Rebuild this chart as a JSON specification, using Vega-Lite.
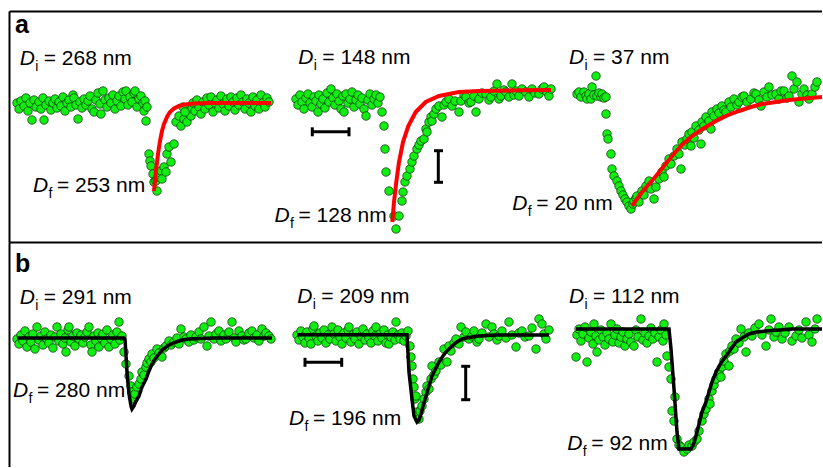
{
"$schema": "https://vega.github.io/schema/vega-lite/v6.json",
"padding": {"left": 9, "top": 11, "right": 0, "bottom": 0},
"spacing": 0,
"config": {"view": {"stroke": null}, "font": "Liberation Sans",
 "axis": {"domain": true, "domainColor": "#000000", "domainWidth": 2, "ticks": false, "labels": false, "grid": false}},
"datasets": {
"labelsA": [
{"x":20.7,"v":177.4,"sub":"i","rest":"= 268 nm"},
{"x":34,"v":50.3,"sub":"f","rest":"= 253 nm"},
{"x":299.3,"v":178,"sub":"i","rest":"= 148 nm"},
{"x":275.5,"v":20.3,"sub":"f","rest":"= 128 nm"},
{"x":570,"v":178,"sub":"i","rest":"= 37 nm"},
{"x":513.3,"v":32.3,"sub":"f","rest":"= 20 nm"}
],
"labelsB": [
{"x":20.7,"v":163,"sub":"i","rest":"= 291 nm"},
{"x":14,"v":69.7,"sub":"f","rest":"= 280 nm"},
{"x":298.3,"v":164,"sub":"i","rest":"= 209 nm"},
{"x":290,"v":42,"sub":"f","rest":"= 196 nm"},
{"x":570,"v":164,"sub":"i","rest":"= 112 nm"},
{"x":568.3,"v":17.3,"sub":"f","rest":"= 92 nm"}
],
"barsA": [
{"x":313.3,"x2":350,"v":110.3,"v2":110.3},
{"x":313.3,"x2":313.3,"v":105.7,"v2":114.7},
{"x":350,"x2":350,"v":105.7,"v2":114.7},
{"x":439.3,"x2":439.3,"v":59.7,"v2":91.3},
{"x":435,"x2":444,"v":59.7,"v2":59.7},
{"x":435,"x2":444,"v":91.3,"v2":91.3}
],
"barsB": [
{"x":306,"x2":342.7,"v":104.7,"v2":104.7},
{"x":306,"x2":306,"v":100.2,"v2":109.2},
{"x":342.7,"x2":342.7,"v":100.2,"v2":109.2},
{"x":466.7,"x2":466.7,"v":67.3,"v2":100.7},
{"x":462.2,"x2":471.2,"v":67.3,"v2":67.3},
{"x":462.2,"x2":471.2,"v":100.7,"v2":100.7}
],
"fitA": [
{"p":1,"x":155,"v":51},{"p":1,"x":157,"v":71},{"p":1,"x":159,"v":88},{"p":1,"x":161,"v":101},{"p":1,"x":163,"v":111},{"p":1,"x":165,"v":118},{"p":1,"x":168,"v":125},{"p":1,"x":171,"v":130},{"p":1,"x":175,"v":133.5},{"p":1,"x":180,"v":136},{"p":1,"x":186,"v":137.5},{"p":1,"x":195,"v":138.5},{"p":1,"x":210,"v":139},{"p":1,"x":240,"v":139},{"p":1,"x":272,"v":139},
{"p":2,"x":393.3,"v":20},{"p":2,"x":395,"v":40},{"p":2,"x":397.3,"v":60},{"p":2,"x":400,"v":80},{"p":2,"x":404,"v":100},{"p":2,"x":409.3,"v":116},{"p":2,"x":416.7,"v":130},{"p":2,"x":426.7,"v":140},{"p":2,"x":440,"v":146},{"p":2,"x":460,"v":150},{"p":2,"x":480,"v":151},{"p":2,"x":520,"v":151.8},{"p":2,"x":552,"v":152},
{"p":3,"x":633,"v":36},{"p":3,"x":638,"v":43},{"p":3,"x":643,"v":50},{"p":3,"x":650,"v":58},{"p":3,"x":657,"v":66},{"p":3,"x":665,"v":76},{"p":3,"x":673,"v":86},{"p":3,"x":683,"v":97},{"p":3,"x":693,"v":106},{"p":3,"x":705,"v":114},{"p":3,"x":717,"v":121},{"p":3,"x":728,"v":126.5},{"p":3,"x":740,"v":131},{"p":3,"x":752,"v":135},{"p":3,"x":763,"v":138},{"p":3,"x":777,"v":140},{"p":3,"x":790,"v":142},{"p":3,"x":806,"v":143.5},{"p":3,"x":823,"v":145}
],
"fitB": [
{"p":1,"x":18,"v":129},{"p":1,"x":125,"v":129},{"p":1,"x":126,"v":128},{"p":1,"x":128,"v":95},{"p":1,"x":130,"v":73},{"p":1,"x":132,"v":61},{"p":1,"x":133,"v":58},{"p":1,"x":135,"v":61},{"p":1,"x":137,"v":66},{"p":1,"x":140,"v":71},{"p":1,"x":143,"v":80},{"p":1,"x":147,"v":88},{"p":1,"x":150,"v":96},{"p":1,"x":153,"v":103},{"p":1,"x":156,"v":108},{"p":1,"x":160,"v":113},{"p":1,"x":163,"v":117},{"p":1,"x":167,"v":120},{"p":1,"x":172,"v":123},{"p":1,"x":177,"v":125},{"p":1,"x":183,"v":127},{"p":1,"x":190,"v":128},{"p":1,"x":200,"v":128.5},{"p":1,"x":217,"v":129},{"p":1,"x":273,"v":129},
{"p":2,"x":298,"v":132.3},{"p":2,"x":408,"v":132.3},{"p":2,"x":410,"v":95},{"p":2,"x":413,"v":68},{"p":2,"x":415,"v":51},{"p":2,"x":418,"v":45},{"p":2,"x":420,"v":47},{"p":2,"x":422,"v":53},{"p":2,"x":424,"v":61},{"p":2,"x":427,"v":71},{"p":2,"x":430,"v":81},{"p":2,"x":433,"v":91},{"p":2,"x":437,"v":99},{"p":2,"x":440,"v":105},{"p":2,"x":444,"v":111},{"p":2,"x":447,"v":115},{"p":2,"x":450,"v":118},{"p":2,"x":453,"v":121},{"p":2,"x":458,"v":125},{"p":2,"x":463,"v":128},{"p":2,"x":470,"v":129.5},{"p":2,"x":480,"v":131},{"p":2,"x":497,"v":132},{"p":2,"x":550,"v":132},
{"p":3,"x":577,"v":138},{"p":3,"x":670,"v":138},{"p":3,"x":672,"v":118},{"p":3,"x":675,"v":78},{"p":3,"x":678,"v":35},{"p":3,"x":680,"v":18},{"p":3,"x":686,"v":18},{"p":3,"x":692,"v":18},{"p":3,"x":695,"v":24},{"p":3,"x":697,"v":31},{"p":3,"x":700,"v":43},{"p":3,"x":703,"v":55},{"p":3,"x":707,"v":65},{"p":3,"x":710,"v":75},{"p":3,"x":713,"v":85},{"p":3,"x":717,"v":95},{"p":3,"x":722,"v":104},{"p":3,"x":727,"v":111},{"p":3,"x":732,"v":118},{"p":3,"x":737,"v":125},{"p":3,"x":743,"v":129},{"p":3,"x":750,"v":133},{"p":3,"x":758,"v":135},{"p":3,"x":767,"v":136},{"p":3,"x":780,"v":137},{"p":3,"x":793,"v":138},{"p":3,"x":823,"v":138}
],
"ptsA": [
{"p":1,"x":18,"v":139},{"p":1,"x":20,"v":133},{"p":1,"x":22,"v":141},{"p":1,"x":25,"v":136},{"p":1,"x":27,"v":144},{"p":1,"x":29,"v":131},{"p":1,"x":31,"v":139},{"p":1,"x":33,"v":122},{"p":1,"x":35,"v":142},{"p":1,"x":37,"v":135},{"p":1,"x":40,"v":140},{"p":1,"x":42,"v":133},{"p":1,"x":44,"v":144},{"p":1,"x":45,"v":122},{"p":1,"x":47,"v":137},{"p":1,"x":50,"v":141},{"p":1,"x":52,"v":132},{"p":1,"x":54,"v":139},{"p":1,"x":56,"v":143},{"p":1,"x":58,"v":134},{"p":1,"x":60,"v":140},{"p":1,"x":62,"v":136},{"p":1,"x":64,"v":145},{"p":1,"x":66,"v":131},{"p":1,"x":68,"v":139},{"p":1,"x":70,"v":142},{"p":1,"x":72,"v":135},{"p":1,"x":74,"v":147},{"p":1,"x":75,"v":144},{"p":1,"x":77,"v":137},{"p":1,"x":79,"v":123},{"p":1,"x":81,"v":140},{"p":1,"x":83,"v":134},{"p":1,"x":85,"v":143},{"p":1,"x":87,"v":137},{"p":1,"x":89,"v":141},{"p":1,"x":91,"v":146},{"p":1,"x":93,"v":133},{"p":1,"x":95,"v":130},{"p":1,"x":97,"v":142},{"p":1,"x":99,"v":149},{"p":1,"x":101,"v":138},{"p":1,"x":102,"v":128},{"p":1,"x":104,"v":151},{"p":1,"x":106,"v":142},{"p":1,"x":108,"v":135},{"p":1,"x":110,"v":144},{"p":1,"x":112,"v":139},{"p":1,"x":114,"v":147},{"p":1,"x":116,"v":133},{"p":1,"x":118,"v":141},{"p":1,"x":120,"v":146},{"p":1,"x":122,"v":136},{"p":1,"x":124,"v":150},{"p":1,"x":126,"v":143},{"p":1,"x":127,"v":151},{"p":1,"x":129,"v":137},{"p":1,"x":131,"v":145},{"p":1,"x":133,"v":140},{"p":1,"x":135,"v":149},{"p":1,"x":136,"v":151},{"p":1,"x":138,"v":135},{"p":1,"x":140,"v":143},{"p":1,"x":142,"v":146},{"p":1,"x":144,"v":139},{"p":1,"x":145,"v":131},{"p":1,"x":146,"v":141},{"p":1,"x":147,"v":121},{"p":1,"x":148,"v":135},
{"p":1,"x":150,"v":88},{"p":1,"x":151,"v":81},{"p":1,"x":152,"v":76},{"p":1,"x":154,"v":68},{"p":1,"x":155,"v":60},{"p":1,"x":157,"v":61},{"p":1,"x":158,"v":51},{"p":1,"x":159,"v":65},{"p":1,"x":162,"v":71},{"p":1,"x":163,"v":63},{"p":1,"x":165,"v":75},{"p":1,"x":167,"v":70},{"p":1,"x":168,"v":88},{"p":1,"x":170,"v":95},{"p":1,"x":172,"v":80},{"p":1,"x":175,"v":98},{"p":1,"x":177,"v":120},{"p":1,"x":180,"v":126},{"p":1,"x":182,"v":116},{"p":1,"x":185,"v":123},{"p":1,"x":188,"v":120},{"p":1,"x":190,"v":131},{"p":1,"x":192,"v":126},{"p":1,"x":193,"v":133},{"p":1,"x":184,"v":135},{"p":1,"x":186,"v":130},{"p":1,"x":194,"v":139},
{"p":1,"x":196,"v":131},{"p":1,"x":198,"v":142},{"p":1,"x":200,"v":135},{"p":1,"x":202,"v":128},{"p":1,"x":204,"v":140},{"p":1,"x":206,"v":133},{"p":1,"x":208,"v":144},{"p":1,"x":210,"v":137},{"p":1,"x":212,"v":145},{"p":1,"x":214,"v":130},{"p":1,"x":216,"v":139},{"p":1,"x":218,"v":142},{"p":1,"x":220,"v":134},{"p":1,"x":222,"v":146},{"p":1,"x":224,"v":138},{"p":1,"x":226,"v":131},{"p":1,"x":228,"v":143},{"p":1,"x":230,"v":136},{"p":1,"x":232,"v":145},{"p":1,"x":234,"v":140},{"p":1,"x":236,"v":132},{"p":1,"x":238,"v":144},{"p":1,"x":240,"v":137},{"p":1,"x":242,"v":147},{"p":1,"x":244,"v":140},{"p":1,"x":246,"v":133},{"p":1,"x":248,"v":143},{"p":1,"x":250,"v":139},{"p":1,"x":252,"v":130},{"p":1,"x":254,"v":145},{"p":1,"x":256,"v":136},{"p":1,"x":258,"v":142},{"p":1,"x":260,"v":133},{"p":1,"x":262,"v":147},{"p":1,"x":264,"v":139},{"p":1,"x":266,"v":135},{"p":1,"x":268,"v":144},{"p":1,"x":270,"v":140},
{"p":2,"x":297,"v":143},{"p":2,"x":299,"v":137},{"p":2,"x":301,"v":147},{"p":2,"x":303,"v":140},{"p":2,"x":305,"v":133},{"p":2,"x":307,"v":144},{"p":2,"x":309,"v":148},{"p":2,"x":311,"v":139},{"p":2,"x":313,"v":135},{"p":2,"x":315,"v":145},{"p":2,"x":317,"v":141},{"p":2,"x":319,"v":130},{"p":2,"x":320,"v":147},{"p":2,"x":322,"v":138},{"p":2,"x":324,"v":143},{"p":2,"x":326,"v":134},{"p":2,"x":328,"v":149},{"p":2,"x":330,"v":140},{"p":2,"x":332,"v":153},{"p":2,"x":334,"v":144},{"p":2,"x":336,"v":137},{"p":2,"x":338,"v":148},{"p":2,"x":340,"v":141},{"p":2,"x":342,"v":133},{"p":2,"x":344,"v":146},{"p":2,"x":345,"v":130},{"p":2,"x":347,"v":148},{"p":2,"x":349,"v":139},{"p":2,"x":351,"v":143},{"p":2,"x":353,"v":150},{"p":2,"x":355,"v":135},{"p":2,"x":357,"v":142},{"p":2,"x":359,"v":147},{"p":2,"x":361,"v":138},{"p":2,"x":363,"v":144},{"p":2,"x":365,"v":133},{"p":2,"x":367,"v":126},{"p":2,"x":369,"v":142},{"p":2,"x":371,"v":148},{"p":2,"x":373,"v":137},{"p":2,"x":375,"v":143},{"p":2,"x":377,"v":147},{"p":2,"x":379,"v":139},{"p":2,"x":381,"v":145},{"p":2,"x":383,"v":130},
{"p":2,"x":385,"v":116},{"p":2,"x":386,"v":93},{"p":2,"x":387,"v":70},{"p":2,"x":390,"v":51},{"p":2,"x":395,"v":26},{"p":2,"x":397,"v":13},{"p":2,"x":400,"v":26},{"p":2,"x":403,"v":41},{"p":2,"x":404,"v":50},{"p":2,"x":406,"v":60},{"p":2,"x":408,"v":66},{"p":2,"x":411,"v":73},{"p":2,"x":413,"v":80},{"p":2,"x":415,"v":86},{"p":2,"x":418,"v":93},{"p":2,"x":420,"v":97},{"p":2,"x":422,"v":101},{"p":2,"x":425,"v":103},{"p":2,"x":427,"v":113},{"p":2,"x":428,"v":110},{"p":2,"x":430,"v":120},{"p":2,"x":432,"v":125},{"p":2,"x":433,"v":121},{"p":2,"x":435,"v":128},{"p":2,"x":437,"v":133},{"p":2,"x":440,"v":136},{"p":2,"x":443,"v":125},{"p":2,"x":445,"v":137},{"p":2,"x":447,"v":140},{"p":2,"x":450,"v":143},{"p":2,"x":453,"v":136},{"p":2,"x":456,"v":141},{"p":2,"x":460,"v":130},{"p":2,"x":462,"v":141},{"p":2,"x":465,"v":147},{"p":2,"x":467,"v":145},{"p":2,"x":470,"v":139},{"p":2,"x":472,"v":140},{"p":2,"x":475,"v":146},{"p":2,"x":477,"v":130},{"p":2,"x":480,"v":143},{"p":2,"x":483,"v":149},{"p":2,"x":487,"v":148},{"p":2,"x":490,"v":142},{"p":2,"x":492,"v":145},{"p":2,"x":495,"v":151},{"p":2,"x":498,"v":158},{"p":2,"x":500,"v":143},{"p":2,"x":502,"v":146},{"p":2,"x":505,"v":152},{"p":2,"x":507,"v":150},{"p":2,"x":510,"v":145},{"p":2,"x":513,"v":158},{"p":2,"x":515,"v":147},{"p":2,"x":517,"v":151},{"p":2,"x":520,"v":146},{"p":2,"x":523,"v":153},{"p":2,"x":527,"v":150},{"p":2,"x":530,"v":145},{"p":2,"x":533,"v":153},{"p":2,"x":536,"v":149},{"p":2,"x":540,"v":148},{"p":2,"x":543,"v":153},{"p":2,"x":545,"v":155},{"p":2,"x":548,"v":150},{"p":2,"x":550,"v":146},{"p":2,"x":552,"v":153},
{"p":3,"x":578,"v":148},{"p":3,"x":580,"v":150},{"p":3,"x":582,"v":145},{"p":3,"x":585,"v":150},{"p":3,"x":587,"v":146},{"p":3,"x":588,"v":143},{"p":3,"x":590,"v":148},{"p":3,"x":592,"v":143},{"p":3,"x":593,"v":155},{"p":3,"x":595,"v":147},{"p":3,"x":597,"v":166},{"p":3,"x":598,"v":146},{"p":3,"x":600,"v":149},{"p":3,"x":602,"v":145},{"p":3,"x":603,"v":148},{"p":3,"x":605,"v":144},{"p":3,"x":607,"v":145},
{"p":3,"x":607,"v":128},{"p":3,"x":608,"v":108},{"p":3,"x":609,"v":103},{"p":3,"x":612,"v":88},{"p":3,"x":613,"v":73},{"p":3,"x":615,"v":66},{"p":3,"x":618,"v":61},{"p":3,"x":620,"v":56},{"p":3,"x":622,"v":51},{"p":3,"x":624,"v":47},{"p":3,"x":626,"v":43},{"p":3,"x":628,"v":40},{"p":3,"x":630,"v":36},{"p":3,"x":632,"v":33},
{"p":3,"x":634,"v":38},{"p":3,"x":635,"v":41},{"p":3,"x":637,"v":44},{"p":3,"x":638,"v":46},{"p":3,"x":640,"v":40},{"p":3,"x":643,"v":51},{"p":3,"x":645,"v":47},{"p":3,"x":647,"v":56},{"p":3,"x":650,"v":61},{"p":3,"x":652,"v":53},{"p":3,"x":655,"v":43},{"p":3,"x":657,"v":55},{"p":3,"x":660,"v":63},{"p":3,"x":663,"v":70},{"p":3,"x":665,"v":65},{"p":3,"x":667,"v":76},{"p":3,"x":670,"v":83},{"p":3,"x":672,"v":78},{"p":3,"x":675,"v":86},{"p":3,"x":678,"v":93},{"p":3,"x":680,"v":88},{"p":3,"x":682,"v":73},{"p":3,"x":683,"v":100},{"p":3,"x":686,"v":97},{"p":3,"x":688,"v":103},{"p":3,"x":690,"v":108},{"p":3,"x":692,"v":96},{"p":3,"x":693,"v":110},{"p":3,"x":695,"v":104},{"p":3,"x":697,"v":116},{"p":3,"x":700,"v":112},{"p":3,"x":702,"v":98},{"p":3,"x":703,"v":120},{"p":3,"x":705,"v":116},{"p":3,"x":707,"v":125},{"p":3,"x":710,"v":121},{"p":3,"x":712,"v":113},{"p":3,"x":713,"v":130},{"p":3,"x":715,"v":126},{"p":3,"x":718,"v":133},{"p":3,"x":720,"v":129},{"p":3,"x":723,"v":136},{"p":3,"x":725,"v":132},{"p":3,"x":727,"v":130},{"p":3,"x":730,"v":140},{"p":3,"x":732,"v":135},{"p":3,"x":735,"v":143},{"p":3,"x":738,"v":137},{"p":3,"x":740,"v":140},{"p":3,"x":743,"v":145},{"p":3,"x":745,"v":146},{"p":3,"x":748,"v":140},{"p":3,"x":752,"v":143},{"p":3,"x":755,"v":149},{"p":3,"x":757,"v":148},{"p":3,"x":760,"v":142},{"p":3,"x":762,"v":136},{"p":3,"x":765,"v":150},{"p":3,"x":768,"v":145},{"p":3,"x":770,"v":155},{"p":3,"x":773,"v":147},{"p":3,"x":777,"v":148},{"p":3,"x":780,"v":143},{"p":3,"x":782,"v":151},{"p":3,"x":785,"v":151},{"p":3,"x":788,"v":144},{"p":3,"x":790,"v":146},{"p":3,"x":793,"v":166},{"p":3,"x":795,"v":153},{"p":3,"x":798,"v":160},{"p":3,"x":800,"v":140},{"p":3,"x":803,"v":148},{"p":3,"x":805,"v":153},{"p":3,"x":808,"v":147},{"p":3,"x":810,"v":143},{"p":3,"x":813,"v":148},{"p":3,"x":816,"v":155},{"p":3,"x":818,"v":160}
],
"ptsB": [
{"p":1,"x":18,"v":128},{"p":1,"x":20,"v":123},{"p":1,"x":22,"v":132},{"p":1,"x":24,"v":126},{"p":1,"x":26,"v":136},{"p":1,"x":28,"v":120},{"p":1,"x":30,"v":130},{"p":1,"x":32,"v":125},{"p":1,"x":34,"v":133},{"p":1,"x":36,"v":118},{"p":1,"x":38,"v":140},{"p":1,"x":40,"v":127},{"p":1,"x":42,"v":131},{"p":1,"x":44,"v":122},{"p":1,"x":46,"v":135},{"p":1,"x":48,"v":128},{"p":1,"x":50,"v":124},{"p":1,"x":52,"v":132},{"p":1,"x":54,"v":119},{"p":1,"x":56,"v":130},{"p":1,"x":58,"v":140},{"p":1,"x":60,"v":126},{"p":1,"x":62,"v":133},{"p":1,"x":64,"v":123},{"p":1,"x":66,"v":129},{"p":1,"x":67,"v":115},{"p":1,"x":69,"v":137},{"p":1,"x":70,"v":140},{"p":1,"x":72,"v":125},{"p":1,"x":74,"v":131},{"p":1,"x":76,"v":121},{"p":1,"x":78,"v":134},{"p":1,"x":80,"v":128},{"p":1,"x":82,"v":132},{"p":1,"x":84,"v":124},{"p":1,"x":86,"v":130},{"p":1,"x":88,"v":135},{"p":1,"x":90,"v":140},{"p":1,"x":92,"v":122},{"p":1,"x":93,"v":115},{"p":1,"x":95,"v":131},{"p":1,"x":97,"v":126},{"p":1,"x":99,"v":134},{"p":1,"x":100,"v":120},{"p":1,"x":102,"v":129},{"p":1,"x":104,"v":133},{"p":1,"x":106,"v":124},{"p":1,"x":108,"v":137},{"p":1,"x":110,"v":120},{"p":1,"x":112,"v":128},{"p":1,"x":114,"v":132},{"p":1,"x":116,"v":123},{"p":1,"x":118,"v":135},{"p":1,"x":120,"v":145},{"p":1,"x":121,"v":127},{"p":1,"x":123,"v":131},{"p":1,"x":125,"v":115},
{"p":1,"x":127,"v":103},{"p":1,"x":130,"v":91},{"p":1,"x":132,"v":81},{"p":1,"x":133,"v":75},{"p":1,"x":135,"v":68},{"p":1,"x":136,"v":73},{"p":1,"x":138,"v":80},{"p":1,"x":140,"v":83},{"p":1,"x":142,"v":88},{"p":1,"x":143,"v":95},{"p":1,"x":145,"v":92},{"p":1,"x":147,"v":100},{"p":1,"x":148,"v":104},{"p":1,"x":150,"v":108},{"p":1,"x":152,"v":105},{"p":1,"x":153,"v":113},{"p":1,"x":155,"v":109},{"p":1,"x":158,"v":118},{"p":1,"x":160,"v":114},{"p":1,"x":163,"v":110},{"p":1,"x":165,"v":119},{"p":1,"x":167,"v":121},{"p":1,"x":170,"v":126},{"p":1,"x":172,"v":122},{"p":1,"x":175,"v":125},{"p":1,"x":178,"v":129},{"p":1,"x":180,"v":123},{"p":1,"x":182,"v":138},{"p":1,"x":185,"v":130},{"p":1,"x":187,"v":128},{"p":1,"x":190,"v":125},{"p":1,"x":192,"v":132},{"p":1,"x":195,"v":127},{"p":1,"x":197,"v":130},{"p":1,"x":200,"v":135},{"p":1,"x":202,"v":128},{"p":1,"x":205,"v":140},{"p":1,"x":208,"v":121},{"p":1,"x":210,"v":131},{"p":1,"x":212,"v":145},{"p":1,"x":215,"v":128},{"p":1,"x":217,"v":133},{"p":1,"x":220,"v":136},{"p":1,"x":222,"v":126},{"p":1,"x":225,"v":132},{"p":1,"x":227,"v":128},{"p":1,"x":230,"v":135},{"p":1,"x":233,"v":145},{"p":1,"x":235,"v":129},{"p":1,"x":237,"v":125},{"p":1,"x":240,"v":136},{"p":1,"x":243,"v":131},{"p":1,"x":245,"v":127},{"p":1,"x":247,"v":128},{"p":1,"x":250,"v":134},{"p":1,"x":253,"v":136},{"p":1,"x":255,"v":129},{"p":1,"x":258,"v":132},{"p":1,"x":260,"v":126},{"p":1,"x":263,"v":138},{"p":1,"x":265,"v":131},{"p":1,"x":267,"v":134},{"p":1,"x":270,"v":131},{"p":1,"x":272,"v":128},
{"p":2,"x":298,"v":132},{"p":2,"x":300,"v":127},{"p":2,"x":302,"v":136},{"p":2,"x":304,"v":130},{"p":2,"x":306,"v":124},{"p":2,"x":308,"v":135},{"p":2,"x":310,"v":129},{"p":2,"x":312,"v":123},{"p":2,"x":314,"v":138},{"p":2,"x":315,"v":141},{"p":2,"x":317,"v":131},{"p":2,"x":319,"v":126},{"p":2,"x":321,"v":134},{"p":2,"x":323,"v":129},{"p":2,"x":325,"v":137},{"p":2,"x":327,"v":124},{"p":2,"x":329,"v":132},{"p":2,"x":331,"v":128},{"p":2,"x":333,"v":140},{"p":2,"x":335,"v":133},{"p":2,"x":337,"v":126},{"p":2,"x":339,"v":137},{"p":2,"x":341,"v":130},{"p":2,"x":343,"v":123},{"p":2,"x":345,"v":134},{"p":2,"x":347,"v":129},{"p":2,"x":349,"v":137},{"p":2,"x":350,"v":140},{"p":2,"x":352,"v":125},{"p":2,"x":354,"v":132},{"p":2,"x":356,"v":128},{"p":2,"x":358,"v":135},{"p":2,"x":360,"v":123},{"p":2,"x":362,"v":131},{"p":2,"x":364,"v":138},{"p":2,"x":366,"v":127},{"p":2,"x":368,"v":133},{"p":2,"x":370,"v":129},{"p":2,"x":372,"v":124},{"p":2,"x":374,"v":136},{"p":2,"x":376,"v":131},{"p":2,"x":377,"v":140},{"p":2,"x":379,"v":126},{"p":2,"x":381,"v":133},{"p":2,"x":383,"v":129},{"p":2,"x":385,"v":137},{"p":2,"x":387,"v":124},{"p":2,"x":389,"v":132},{"p":2,"x":390,"v":123},{"p":2,"x":392,"v":130},{"p":2,"x":394,"v":135},{"p":2,"x":396,"v":127},{"p":2,"x":397,"v":145},{"p":2,"x":399,"v":132},{"p":2,"x":401,"v":128},{"p":2,"x":403,"v":134},{"p":2,"x":405,"v":126},{"p":2,"x":407,"v":131},{"p":2,"x":409,"v":136},{"p":2,"x":411,"v":121},
{"p":2,"x":412,"v":110},{"p":2,"x":413,"v":101},{"p":2,"x":414,"v":88},{"p":2,"x":415,"v":80},{"p":2,"x":416,"v":68},{"p":2,"x":417,"v":71},{"p":2,"x":418,"v":55},{"p":2,"x":420,"v":48},{"p":2,"x":421,"v":56},{"p":2,"x":423,"v":61},{"p":2,"x":425,"v":68},{"p":2,"x":427,"v":75},{"p":2,"x":428,"v":81},{"p":2,"x":430,"v":78},{"p":2,"x":432,"v":88},{"p":2,"x":433,"v":101},{"p":2,"x":435,"v":92},{"p":2,"x":437,"v":96},{"p":2,"x":440,"v":105},{"p":2,"x":442,"v":102},{"p":2,"x":445,"v":118},{"p":2,"x":448,"v":105},{"p":2,"x":450,"v":121},{"p":2,"x":452,"v":116},{"p":2,"x":455,"v":124},{"p":2,"x":457,"v":128},{"p":2,"x":460,"v":123},{"p":2,"x":462,"v":140},{"p":2,"x":465,"v":130},{"p":2,"x":467,"v":135},{"p":2,"x":470,"v":128},{"p":2,"x":473,"v":131},{"p":2,"x":475,"v":136},{"p":2,"x":478,"v":125},{"p":2,"x":480,"v":128},{"p":2,"x":483,"v":134},{"p":2,"x":487,"v":143},{"p":2,"x":490,"v":130},{"p":2,"x":493,"v":140},{"p":2,"x":495,"v":133},{"p":2,"x":498,"v":127},{"p":2,"x":500,"v":131},{"p":2,"x":503,"v":136},{"p":2,"x":507,"v":129},{"p":2,"x":510,"v":145},{"p":2,"x":513,"v":132},{"p":2,"x":517,"v":120},{"p":2,"x":520,"v":134},{"p":2,"x":523,"v":136},{"p":2,"x":526,"v":130},{"p":2,"x":530,"v":131},{"p":2,"x":533,"v":139},{"p":2,"x":537,"v":118},{"p":2,"x":540,"v":148},{"p":2,"x":543,"v":143},{"p":2,"x":545,"v":133},{"p":2,"x":547,"v":128},{"p":2,"x":550,"v":137},
{"p":3,"x":577,"v":110},{"p":3,"x":578,"v":132},{"p":3,"x":580,"v":138},{"p":3,"x":582,"v":126},{"p":3,"x":584,"v":133},{"p":3,"x":586,"v":140},{"p":3,"x":588,"v":105},{"p":3,"x":590,"v":129},{"p":3,"x":592,"v":135},{"p":3,"x":594,"v":123},{"p":3,"x":595,"v":143},{"p":3,"x":597,"v":131},{"p":3,"x":598,"v":115},{"p":3,"x":600,"v":127},{"p":3,"x":602,"v":137},{"p":3,"x":604,"v":130},{"p":3,"x":606,"v":122},{"p":3,"x":608,"v":134},{"p":3,"x":610,"v":128},{"p":3,"x":612,"v":143},{"p":3,"x":614,"v":125},{"p":3,"x":616,"v":132},{"p":3,"x":618,"v":138},{"p":3,"x":620,"v":124},{"p":3,"x":622,"v":130},{"p":3,"x":624,"v":135},{"p":3,"x":626,"v":121},{"p":3,"x":628,"v":128},{"p":3,"x":630,"v":133},{"p":3,"x":632,"v":125},{"p":3,"x":635,"v":121},{"p":3,"x":637,"v":137},{"p":3,"x":639,"v":130},{"p":3,"x":642,"v":148},{"p":3,"x":644,"v":127},{"p":3,"x":646,"v":134},{"p":3,"x":648,"v":124},{"p":3,"x":650,"v":131},{"p":3,"x":652,"v":139},{"p":3,"x":654,"v":128},{"p":3,"x":656,"v":134},{"p":3,"x":658,"v":105},{"p":3,"x":660,"v":130},{"p":3,"x":662,"v":137},{"p":3,"x":664,"v":126},{"p":3,"x":665,"v":143},{"p":3,"x":667,"v":132},
{"p":3,"x":668,"v":111},{"p":3,"x":670,"v":100},{"p":3,"x":672,"v":88},{"p":3,"x":673,"v":56},{"p":3,"x":675,"v":46},{"p":3,"x":676,"v":70},{"p":3,"x":678,"v":28},{"p":3,"x":680,"v":22},{"p":3,"x":682,"v":20},{"p":3,"x":685,"v":15},{"p":3,"x":688,"v":18},{"p":3,"x":690,"v":22},{"p":3,"x":693,"v":21},{"p":3,"x":695,"v":25},{"p":3,"x":698,"v":28},{"p":3,"x":700,"v":36},{"p":3,"x":703,"v":46},{"p":3,"x":705,"v":53},{"p":3,"x":707,"v":58},{"p":3,"x":710,"v":68},{"p":3,"x":711,"v":63},{"p":3,"x":713,"v":76},{"p":3,"x":715,"v":82},{"p":3,"x":717,"v":88},{"p":3,"x":720,"v":95},{"p":3,"x":722,"v":90},{"p":3,"x":723,"v":100},{"p":3,"x":725,"v":106},{"p":3,"x":727,"v":113},{"p":3,"x":730,"v":101},{"p":3,"x":731,"v":116},{"p":3,"x":733,"v":121},{"p":3,"x":735,"v":118},{"p":3,"x":737,"v":128},{"p":3,"x":740,"v":124},{"p":3,"x":742,"v":138},{"p":3,"x":745,"v":130},{"p":3,"x":747,"v":115},{"p":3,"x":750,"v":134},{"p":3,"x":753,"v":131},{"p":3,"x":756,"v":139},{"p":3,"x":760,"v":143},{"p":3,"x":763,"v":132},{"p":3,"x":767,"v":121},{"p":3,"x":770,"v":137},{"p":3,"x":772,"v":148},{"p":3,"x":775,"v":130},{"p":3,"x":777,"v":135},{"p":3,"x":780,"v":140},{"p":3,"x":783,"v":128},{"p":3,"x":786,"v":134},{"p":3,"x":790,"v":140},{"p":3,"x":793,"v":126},{"p":3,"x":797,"v":131},{"p":3,"x":800,"v":137},{"p":3,"x":803,"v":129},{"p":3,"x":807,"v":145},{"p":3,"x":810,"v":132},{"p":3,"x":813,"v":125},{"p":3,"x":816,"v":138},{"p":3,"x":818,"v":148}
]
},
"vconcat": [
{
"width": 813, "height": 231,
"layer": [
{"data": {"values": [{"x": 16, "v": 209, "letter": "a"}]},
 "mark": {"type": "text", "fontWeight": "bold", "fontSize": 25, "align": "left", "baseline": "alphabetic"},
 "encoding": {"x": {"field": "x", "type": "quantitative", "scale": {"domain": [10, 823], "zero": false, "nice": false}, "axis": {"orient": "top", "title": null}},
  "y": {"field": "v", "type": "quantitative", "scale": {"domain": [0, 231], "nice": false}, "axis": {"orient": "left", "title": null}},
  "text": {"field": "letter"}}},
{"data": {"name": "labelsA"},
 "mark": {"type": "text", "text": "D", "fontStyle": "italic", "fontSize": 21, "align": "left", "baseline": "alphabetic"},
 "encoding": {"x": {"field": "x", "type": "quantitative", "scale": {"domain": [10, 823], "zero": false, "nice": false}, "title": null}, "y": {"field": "v", "type": "quantitative", "scale": {"domain": [0, 231], "nice": false}, "title": null}}},
{"data": {"name": "labelsA"},
 "mark": {"type": "text", "fontSize": 14, "align": "left", "baseline": "alphabetic", "dx": 15.5, "dy": 6},
 "encoding": {"x": {"field": "x", "type": "quantitative", "scale": {"domain": [10, 823], "zero": false, "nice": false}, "title": null}, "y": {"field": "v", "type": "quantitative", "scale": {"domain": [0, 231], "nice": false}, "title": null}, "text": {"field": "sub"}}},
{"data": {"name": "labelsA"},
 "mark": {"type": "text", "fontSize": 21, "align": "left", "baseline": "alphabetic", "dx": 24},
 "encoding": {"x": {"field": "x", "type": "quantitative", "scale": {"domain": [10, 823], "zero": false, "nice": false}, "title": null}, "y": {"field": "v", "type": "quantitative", "scale": {"domain": [0, 231], "nice": false}, "title": null}, "text": {"field": "rest"}}},
{"data": {"name": "barsA"},
 "mark": {"type": "rule", "color": "#000000", "strokeWidth": 3},
 "encoding": {"x": {"field": "x", "type": "quantitative", "scale": {"domain": [10, 823], "zero": false, "nice": false}, "title": null}, "x2": {"field": "x2"}, "y": {"field": "v", "type": "quantitative", "scale": {"domain": [0, 231], "nice": false}, "title": null}, "y2": {"field": "v2"}}},
{"data": {"name": "ptsA"},
 "mark": {"type": "point", "shape": "circle", "filled": true, "size": 72, "fill": "#11ee11", "stroke": "#0a2a0a", "strokeWidth": 0.7, "opacity": 1, "clip": true},
 "encoding": {"x": {"field": "x", "type": "quantitative", "scale": {"domain": [10, 823], "zero": false, "nice": false}, "title": null}, "y": {"field": "v", "type": "quantitative", "scale": {"domain": [0, 231], "nice": false}, "title": null}}},
{"data": {"name": "fitA"},
 "mark": {"type": "line", "color": "#ff0000", "strokeWidth": 4, "clip": true},
 "encoding": {"x": {"field": "x", "type": "quantitative", "scale": {"domain": [10, 823], "zero": false, "nice": false}, "title": null}, "y": {"field": "v", "type": "quantitative", "scale": {"domain": [0, 231], "nice": false}, "title": null}, "detail": {"field": "p"}}}
]
},
{
"width": 813, "height": 225,
"layer": [
{"data": {"values": [{"x": 16, "v": 195, "letter": "b"}]},
 "mark": {"type": "text", "fontWeight": "bold", "fontSize": 25, "align": "left", "baseline": "alphabetic"},
 "encoding": {"x": {"field": "x", "type": "quantitative", "scale": {"domain": [10, 823], "zero": false, "nice": false}, "axis": {"orient": "top", "title": null}},
  "y": {"field": "v", "type": "quantitative", "scale": {"domain": [0, 225], "nice": false}, "axis": {"orient": "left", "title": null}},
  "text": {"field": "letter"}}},
{"data": {"name": "labelsB"},
 "mark": {"type": "text", "text": "D", "fontStyle": "italic", "fontSize": 21, "align": "left", "baseline": "alphabetic"},
 "encoding": {"x": {"field": "x", "type": "quantitative", "scale": {"domain": [10, 823], "zero": false, "nice": false}, "title": null}, "y": {"field": "v", "type": "quantitative", "scale": {"domain": [0, 225], "nice": false}, "title": null}}},
{"data": {"name": "labelsB"},
 "mark": {"type": "text", "fontSize": 14, "align": "left", "baseline": "alphabetic", "dx": 15.5, "dy": 6},
 "encoding": {"x": {"field": "x", "type": "quantitative", "scale": {"domain": [10, 823], "zero": false, "nice": false}, "title": null}, "y": {"field": "v", "type": "quantitative", "scale": {"domain": [0, 225], "nice": false}, "title": null}, "text": {"field": "sub"}}},
{"data": {"name": "labelsB"},
 "mark": {"type": "text", "fontSize": 21, "align": "left", "baseline": "alphabetic", "dx": 24},
 "encoding": {"x": {"field": "x", "type": "quantitative", "scale": {"domain": [10, 823], "zero": false, "nice": false}, "title": null}, "y": {"field": "v", "type": "quantitative", "scale": {"domain": [0, 225], "nice": false}, "title": null}, "text": {"field": "rest"}}},
{"data": {"name": "barsB"},
 "mark": {"type": "rule", "color": "#000000", "strokeWidth": 3},
 "encoding": {"x": {"field": "x", "type": "quantitative", "scale": {"domain": [10, 823], "zero": false, "nice": false}, "title": null}, "x2": {"field": "x2"}, "y": {"field": "v", "type": "quantitative", "scale": {"domain": [0, 225], "nice": false}, "title": null}, "y2": {"field": "v2"}}},
{"data": {"name": "ptsB"},
 "mark": {"type": "point", "shape": "circle", "filled": true, "size": 72, "fill": "#11ee11", "stroke": "#0a2a0a", "strokeWidth": 0.7, "opacity": 1, "clip": true},
 "encoding": {"x": {"field": "x", "type": "quantitative", "scale": {"domain": [10, 823], "zero": false, "nice": false}, "title": null}, "y": {"field": "v", "type": "quantitative", "scale": {"domain": [0, 225], "nice": false}, "title": null}}},
{"data": {"name": "fitB"},
 "mark": {"type": "line", "color": "#000000", "strokeWidth": 3.5, "clip": true},
 "encoding": {"x": {"field": "x", "type": "quantitative", "scale": {"domain": [10, 823], "zero": false, "nice": false}, "title": null}, "y": {"field": "v", "type": "quantitative", "scale": {"domain": [0, 225], "nice": false}, "title": null}, "detail": {"field": "p"}}}
]
}
]
}
